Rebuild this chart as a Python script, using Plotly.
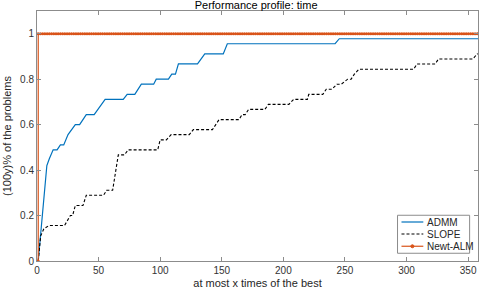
import numpy as np
import plotly.graph_objects as go

# ADMM performance profile (breakpoints)
admm_x = [1, 2, 3, 4, 5, 6, 7, 8, 10, 13.1, 16.3, 19, 21.7, 25.2, 31.1, 34.6, 40, 46.4, 55.3,
          70, 73.2, 79.4, 84.7, 94.7, 96.8, 106.7, 109.4, 112.4, 114.8, 130.3, 136.2,
          151.2, 154.5, 242, 245.4, 358]
admm_y = [0, 0.06, 0.13, 0.2, 0.27, 0.33, 0.38, 0.42, 0.45, 0.489, 0.489, 0.511, 0.511, 0.556,
          0.6, 0.6, 0.644, 0.644, 0.711, 0.711, 0.733, 0.733, 0.778, 0.778, 0.8, 0.8,
          0.822, 0.822, 0.867, 0.867, 0.911, 0.911, 0.956, 0.956, 0.978, 0.978]

# SLOPE performance profile
slope_x = [1, 3, 5.6, 9.7, 22.3, 24.4, 27.1, 28.9, 31.1, 37.3, 40, 54, 56.6, 61.4, 66,
           71, 74, 98, 100, 105, 108.9, 123.6, 126.9, 142.4, 147.8, 163.9, 166.5, 169,
           171.8, 185, 187.8, 204.5, 208.3, 219.5, 220.6, 232, 234.8, 239.5, 243.5, 247,
           252.2, 255, 257.6, 261.3, 305.8, 308.5, 323.3, 325.9, 353.8, 357.3, 358]
slope_y = [0, 0.111, 0.142, 0.156, 0.156, 0.178, 0.2, 0.2, 0.244, 0.244, 0.289, 0.289,
           0.311, 0.311, 0.467, 0.467, 0.489, 0.489, 0.533, 0.533, 0.556, 0.556, 0.578,
           0.578, 0.622, 0.622, 0.644, 0.644, 0.667, 0.667, 0.689, 0.689, 0.711, 0.711,
           0.733, 0.733, 0.756, 0.756, 0.778, 0.778, 0.8, 0.8, 0.822, 0.844, 0.844,
           0.867, 0.867, 0.889, 0.889, 0.911, 0.911]

# Newt-ALM: best on every problem; sampled on the tau grid
tau_grid = np.arange(1, 359, 1.8)
newt_x = [1] + list(tau_grid)
newt_y = [0] + [1.0] * len(tau_grid)

series_names = ["ADMM", "SLOPE", "Newt-ALM"]
series_colors = ["#0072BD", "#000000", "#D95319"]
series_dash = ["solid", "3px,2px", "solid"]

x_ticks = [0, 50, 100, 150, 200, 250, 300, 350]
y_ticks = [0, 0.2, 0.4, 0.6, 0.8, 1]
y_tick_labels = ["0", "0.2", "0.4", "0.6", "0.8", "1"]

FONT = "Liberation Sans, Arial, sans-serif"
FRAME = "#8c8c8c"

fig = go.Figure()
fig.add_trace(go.Scatter(x=admm_x, y=admm_y, mode="lines", name=series_names[0],
                         line=dict(color=series_colors[0], width=1.2, dash=series_dash[0])))
fig.add_trace(go.Scatter(x=slope_x, y=slope_y, mode="lines", name=series_names[1],
                         line=dict(color=series_colors[1], width=1.1, dash=series_dash[1])))
fig.add_trace(go.Scatter(x=newt_x, y=newt_y, mode="lines+markers", name=series_names[2],
                         line=dict(color=series_colors[2], width=1.2, dash=series_dash[2]),
                         marker=dict(color=series_colors[2], size=3, symbol="circle")))

axis_common = dict(showgrid=False, zeroline=False, showline=True, linecolor=FRAME,
                   linewidth=1, mirror="ticks", ticks="inside", ticklen=4,
                   tickcolor=FRAME, tickfont=dict(family=FONT, size=10, color="#333333"))

fig.update_xaxes(range=[0, 358], tickvals=x_ticks,
                 title=dict(text="at most x times of the best",
                            font=dict(family=FONT, size=11, color="#262626"), standoff=4),
                 **axis_common)
fig.update_yaxes(range=[0, 1.1], tickvals=y_ticks, ticktext=y_tick_labels,
                 title=dict(text="(100y)% of the problems",
                            font=dict(family=FONT, size=11, color="#262626"), standoff=6),
                 **axis_common)

# Compact MATLAB-style legend box (lower right, inside the axes)
lx0, lx1, ly0, ly1 = 0.8175, 0.981, 0.031, 0.183
entry_y = [0.156, 0.108, 0.059]
shapes = [dict(type="rect", xref="paper", yref="paper", x0=lx0, x1=lx1, y0=ly0, y1=ly1,
               line=dict(color=FRAME, width=1), fillcolor="white", layer="above")]
annotations = []
for name, col, dash, ey in zip(series_names, series_colors, series_dash, entry_y):
    shapes.append(dict(type="line", xref="paper", yref="paper", x0=0.8265, x1=0.876,
                       y0=ey, y1=ey, line=dict(color=col, width=1.2, dash=dash),
                       layer="above"))
    annotations.append(dict(xref="paper", yref="paper", x=0.879, y=ey, text=name,
                            showarrow=False, xanchor="left", yanchor="middle",
                            font=dict(family=FONT, size=10, color="#262626")))
shapes.append(dict(type="circle", xref="paper", yref="paper",
                   x0=0.8512 - 0.0035, x1=0.8512 + 0.0035,
                   y0=entry_y[2] - 0.006, y1=entry_y[2] + 0.006,
                   line=dict(color=series_colors[2], width=1),
                   fillcolor=series_colors[2], layer="above"))

fig.update_layout(
    width=486, height=294,
    margin=dict(l=33, r=6.5, t=11, b=33),
    paper_bgcolor="white", plot_bgcolor="white",
    title=dict(text="Performance profile: time", x=0.527, xanchor="center",
               y=0.996, yanchor="top", yref="container", pad=dict(t=0),
               font=dict(family=FONT, size=11, color="#000000")),
    showlegend=False,
    shapes=shapes,
    annotations=annotations,
)

fig.write_html("out.html")
